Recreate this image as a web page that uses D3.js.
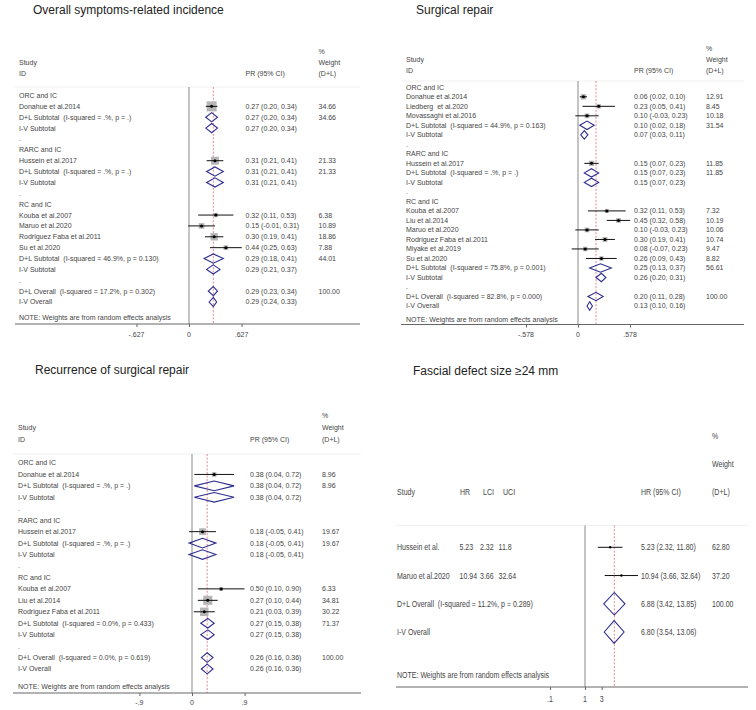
<!DOCTYPE html>
<html><head><meta charset="utf-8">
<script src="https://cdn.jsdelivr.net/npm/d3@7"></script>
<style>
html,body{margin:0;padding:0;background:#fff;}
svg text{font-family:"Liberation Sans",Arial,Helvetica,sans-serif;white-space:pre;}
</style></head><body>
<svg id="c" width="756" height="710"></svg>
<script>
// ---------- Panel 1: Overall symptoms-related incidence ----------
const p1Labels = ["ORC and IC","Donahue et al.2014","D+L Subtotal  (I-squared = .%, p = .)","I-V Subtotal",".",
  "RARC and IC","Hussein et al.2017","D+L Subtotal  (I-squared = .%, p = .)","I-V Subtotal",".",
  "RC and IC","Kouba et al.2007","Maruo et al.2020","Rodriguez Faba et al.2011","Su et al.2020",
  "D+L Subtotal  (I-squared = 46.9%, p = 0.130)","I-V Subtotal",".",
  "D+L Overall  (I-squared = 17.2%, p = 0.302)","I-V Overall"];
const p1Type = ["g","s","d","d","x","g","s","d","d","x","g","s","s","s","s","d","d","x","d","d"];
const p1Est = [null,0.27,0.27,0.27,null,null,0.31,0.31,0.31,null,null,0.32,0.15,0.30,0.44,0.29,0.29,null,0.29,0.29];
const p1Lo  = [null,0.20,0.20,0.20,null,null,0.21,0.21,0.21,null,null,0.11,-0.01,0.19,0.25,0.18,0.21,null,0.23,0.24];
const p1Hi  = [null,0.34,0.34,0.34,null,null,0.41,0.41,0.41,null,null,0.53,0.31,0.41,0.63,0.41,0.37,null,0.34,0.33];
const p1Wt  = [null,34.66,34.66,null,null,null,21.33,21.33,null,null,null,6.38,10.89,18.86,7.88,44.01,null,null,100.00,null];
const p1Ticks = [-0.627, 0, 0.627];

// ---------- Panel 2: Surgical repair ----------
const p2Labels = ["ORC and IC","Donahue et al.2014","Liedberg  et al.2020","Movassaghi et al.2016",
  "D+L Subtotal  (I-squared = 44.9%, p = 0.163)","I-V Subtotal",".",
  "RARC and IC","Hussein et al.2017","D+L Subtotal  (I-squared = .%, p = .)","I-V Subtotal",".",
  "RC and IC","Kouba et al.2007","Liu et al.2014","Maruo et al.2020","Rodriguez Faba et al.2011","Miyake et al.2019","Su et al.2020",
  "D+L Subtotal  (I-squared = 75.8%, p = 0.001)","I-V Subtotal",".",
  "D+L Overall  (I-squared = 82.8%, p = 0.000)","I-V Overall"];
const p2Type = ["g","s","s","s","d","d","x","g","s","d","d","x","g","s","s","s","s","s","s","d","d","x","d","d"];
const p2Est = [null,0.06,0.23,0.10,0.10,0.07,null,null,0.15,0.15,0.15,null,null,0.32,0.45,0.10,0.30,0.08,0.26,0.25,0.26,null,0.20,0.13];
const p2Lo  = [null,0.02,0.05,-0.03,0.02,0.03,null,null,0.07,0.07,0.07,null,null,0.11,0.32,-0.03,0.19,-0.07,0.09,0.13,0.20,null,0.11,0.10];
const p2Hi  = [null,0.10,0.41,0.23,0.18,0.11,null,null,0.23,0.23,0.23,null,null,0.53,0.58,0.23,0.41,0.23,0.43,0.37,0.31,null,0.28,0.16];
const p2Wt  = [null,12.91,8.45,10.18,31.54,null,null,null,11.85,11.85,null,null,null,7.32,10.19,10.06,10.74,9.47,8.82,56.61,null,null,100.00,null];
const p2Ticks = [-0.578, 0, 0.578];

// ---------- Panel 3: Recurrence of surgical repair ----------
const p3Labels = ["ORC and IC","Donahue et al.2014","D+L Subtotal  (I-squared = .%, p = .)","I-V Subtotal",".",
  "RARC and IC","Hussein et al.2017","D+L Subtotal  (I-squared = .%, p = .)","I-V Subtotal",".",
  "RC and IC","Kouba et al.2007","Liu et al.2014","Rodriguez Faba et al.2011",
  "D+L Subtotal  (I-squared = 0.0%, p = 0.433)","I-V Subtotal",".",
  "D+L Overall  (I-squared = 0.0%, p = 0.619)","I-V Overall"];
const p3Type = ["g","s","d","d","x","g","s","d","d","x","g","s","s","s","d","d","x","d","d"];
const p3Est = [null,0.38,0.38,0.38,null,null,0.18,0.18,0.18,null,null,0.50,0.27,0.21,0.27,0.27,null,0.26,0.26];
const p3Lo  = [null,0.04,0.04,0.04,null,null,-0.05,-0.05,-0.05,null,null,0.10,0.10,0.03,0.15,0.15,null,0.16,0.16];
const p3Hi  = [null,0.72,0.72,0.72,null,null,0.41,0.41,0.41,null,null,0.90,0.44,0.39,0.38,0.38,null,0.36,0.36];
const p3Wt  = [null,8.96,8.96,null,null,null,19.67,19.67,null,null,null,6.33,34.81,30.22,71.37,null,null,100.00,null];
const p3Ticks = [-0.9, 0, 0.9];

// ---------- Panel 4: Fascial defect size >=24 mm ----------
const p4Labels = ["Hussein et al.","Maruo et al.2020","D+L Overall  (I-squared = 11.2%, p = 0.289)","I-V Overall"];
const p4Type = ["s","s","d","d"];
const p4Est = [5.23,10.94,6.88,6.80];
const p4Lo  = [2.32,3.66,3.42,3.54];
const p4Hi  = [11.8,32.64,13.85,13.06];
const p4Wt  = [62.80,37.20,100.00,null];
const p4Ticks = [0.1, 1, 3];

const svg = d3.select("#c");
svg.append("rect").attr("width",756).attr("height",710).attr("fill","#fff");

const TXT = "#454545", NAVY = "#2d2d8f";

function fmtTick(v){
  if (v === 0) return "0";
  let s = String(v);
  return s.replace(/^0\./, ".").replace(/^-0\./, "-.");
}

function drawPanel(c){
  const g = svg.append("g");
  const narrow = c.narrow;
  function txt(x, y, s, opt){
    opt = opt || {};
    const fs = opt.fs || c.fs;
    const t = g.append("text")
      .attr("fill", opt.fill || TXT)
      .attr("font-size", fs)
      .attr("dy", "0.35em")
      .attr("text-anchor", opt.anchor || "start")
      .text(s);
    if (narrow && !opt.wide) t.attr("transform", `translate(${x},${y}) scale(${c.sx},1)`);
    else t.attr("x", x).attr("y", y);
    return t;
  }
  // title
  g.append("text").attr("x", c.titleX).attr("y", c.titleY).attr("font-size", 12)
    .attr("fill", "#222").text(c.title);
  // headers
  txt(c.wX, c.hdrY[0], "%");
  txt(c.wX, c.hdrY[1], "Weight");
  txt(c.wX, c.hdrY[2], "(D+L)");
  txt(c.ciX, c.hdrY[2], c.ciHead);
  if (c.idCol) {
    txt(c.textX, c.hdrY[1], "Study");
    txt(c.textX, c.hdrY[2], "ID");
  } else {
    txt(c.textX, c.hdrY[2], "Study");
    txt(c.colHX[0], c.hdrY[2], "HR");
    txt(c.colHX[1], c.hdrY[2], "LCI");
    txt(c.colHX[2], c.hdrY[2], "UCI");
  }
  // faint header separator
  g.append("line").attr("x1", c.sepX[0]).attr("x2", c.sepX[1]).attr("y1", c.sepY).attr("y2", c.sepY)
    .attr("stroke", "#f0f0f0").attr("stroke-width", 1);

  const x = c.x;
  const n = c.labels.length;
  const y = d3.scaleLinear().domain([0, n - 1]).range([c.y0, c.y1]);

  // null line
  g.append("line").attr("x1", x(c.nullV)).attr("x2", x(c.nullV))
    .attr("y1", c.sepY).attr("y2", c.axisY).attr("stroke", "#8a8a8a").attr("stroke-width", 1);
  // overall dashed line
  const oi = c.labels.findIndex(s => s.startsWith("D+L Overall"));
  g.append("line").attr("x1", x(c.est[oi])).attr("x2", x(c.est[oi]))
    .attr("y1", c.sepY).attr("y2", c.axisY).attr("stroke", "#e07b86").attr("stroke-width", 0.9)
    .attr("stroke-dasharray", "2,1.6");

  for (let i = 0; i < n; i++) {
    const yy = y(i), t = c.types[i];
    txt(c.textX, yy, c.labels[i]);
    if (t === "s" || t === "d") {
      const ci = c.est[i].toFixed(2) + " (" + c.lo[i].toFixed(2) + ", " + c.hi[i].toFixed(2) + ")";
      txt(c.ciX, yy, ci);
      if (c.wt[i] != null) txt(c.wX, yy, c.wt[i].toFixed(2));
    }
    if (!c.idCol && t === "s") {
      txt(c.colX[0], yy, String(c.est[i]));
      txt(c.colX[1], yy, String(c.lo[i]));
      txt(c.colX[2], yy, String(c.hi[i]));
    }
    if (t === "s") {
      if (c.boxK > 0) {
        const side = c.boxK * Math.sqrt(c.wt[i]);
        g.append("rect").attr("x", x(c.est[i]) - side / 2).attr("y", yy - side / 2)
          .attr("width", side).attr("height", side).attr("fill", "#b5b5b5");
      }
      g.append("line").attr("x1", x(c.lo[i])).attr("x2", x(c.hi[i])).attr("y1", yy).attr("y2", yy)
        .attr("stroke", "#111").attr("stroke-width", 1);
      g.append("circle").attr("cx", x(c.est[i])).attr("cy", yy).attr("r", c.dotR).attr("fill", "#000");
    } else if (t === "d") {
      const p = `M${x(c.lo[i])},${yy} L${x(c.est[i])},${yy - c.dh} L${x(c.hi[i])},${yy} L${x(c.est[i])},${yy + c.dh} Z`;
      g.append("path").attr("d", p).attr("fill", "none").attr("stroke", NAVY).attr("stroke-width", 1.1);
    }
  }
  // note
  txt(c.textX, c.noteY, "NOTE: Weights are from random effects analysis");
  // axis
  g.append("line").attr("x1", c.sepX[0]).attr("x2", c.sepX[1]).attr("y1", c.axisY).attr("y2", c.axisY)
    .attr("stroke", "#666").attr("stroke-width", 1);
  const ax = g.append("g").attr("transform", `translate(0,${c.axisY})`)
    .call(d3.axisBottom(x).tickValues(c.ticks).tickFormat(fmtTick).tickSize(3).tickSizeOuter(0));
  ax.select(".domain").remove();
  ax.selectAll(".tick line").attr("stroke", "#666");
  ax.selectAll(".tick text").remove();
  c.ticks.forEach(v => txt(x(v), c.tickY, fmtTick(v), {anchor: "middle"}));
}

drawPanel({
  title: "Overall symptoms-related incidence", titleX: 33, titleY: 13.5,
  fs: 7, idCol: true, textX: 19, ciX: 245.5, wX: 318.5, ciHead: "PR (95% CI)",
  hdrY: [52, 62.5, 74], sepY: 87, sepX: [15, 360],
  x: d3.scaleLinear().domain([0, 1]).range([189, 189 + 83.8]), nullV: 0,
  y0: 95.5, y1: 302, labels: p1Labels, types: p1Type, est: p1Est, lo: p1Lo, hi: p1Hi, wt: p1Wt,
  boxK: 1.7, dotR: 1.5, dh: 4.6, noteY: 318, axisY: 324, tickY: 334.5, ticks: p1Ticks
});

drawPanel({
  title: "Surgical repair", titleX: 416, titleY: 13.5,
  fs: 7, idCol: true, textX: 406, ciX: 634, wX: 706, ciHead: "PR (95% CI)",
  hdrY: [49, 60, 70.5], sepY: 81, sepX: [401, 744],
  x: d3.scaleLinear().domain([0, 1]).range([578, 578 + 90]), nullV: 0,
  y0: 87.3, y1: 306, labels: p2Labels, types: p2Type, est: p2Est, lo: p2Lo, hi: p2Hi, wt: p2Wt,
  boxK: 1.5, dotR: 1.5, dh: 4.2, noteY: 320, axisY: 324.5, tickY: 334.5, ticks: p2Ticks
});

drawPanel({
  title: "Recurrence of surgical repair", titleX: 35, titleY: 373.5,
  fs: 7, idCol: true, textX: 18, ciX: 250, wX: 322, ciHead: "PR (95% CI)",
  hdrY: [416, 428, 440], sepY: 454, sepX: [13, 361],
  x: d3.scaleLinear().domain([0, 1]).range([192, 192 + 58.4]), nullV: 0,
  y0: 463, y1: 669, labels: p3Labels, types: p3Type, est: p3Est, lo: p3Lo, hi: p3Hi, wt: p3Wt,
  boxK: 1.53, dotR: 1.5, dh: 4.8, noteY: 687, axisY: 693, tickY: 703, ticks: p3Ticks
});

drawPanel({
  title: "Fascial defect size \u226524 mm", titleX: 413, titleY: 374.5,
  fs: 9, sx: 0.78, narrow: true, idCol: false, textX: 397,
  colX: [459.5, 480, 498.5], colHX: [460, 483, 503], ciX: 641, wX: 712, ciHead: "HR (95% CI)",
  hdrY: [436, 464, 492], sepY: 525.5, sepX: [396, 748],
  x: d3.scaleLog().domain([1, 10]).range([585, 620]), nullV: 1,
  y0: 547.3, y1: 632, labels: p4Labels, types: p4Type, est: p4Est, lo: p4Lo, hi: p4Hi, wt: p4Wt,
  boxK: 0, dotR: 1.2, dh: 11.3, noteY: 675, axisY: 687, tickY: 698.5, ticks: p4Ticks
});
</script>
</body></html>
